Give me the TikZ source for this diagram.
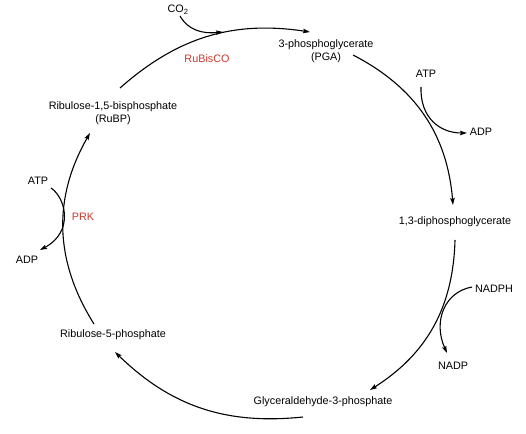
\documentclass[tikz,border=0pt]{standalone}
\usepackage{fontspec}
\setmainfont{Liberation Sans}
\usetikzlibrary{arrows.meta}
\definecolor{enz}{RGB}{205,55,45}
\begin{document}
\begin{tikzpicture}[x=1pt,y=-1pt,
  lbl/.style={inner sep=0pt,align=center,font=\fontsize{10.8}{13.5}\selectfont},
  enzyme/.style={lbl,text=enz},
  flow/.style={line width=1.1pt,-{Stealth[length=7pt,width=4.5pt,inset=1.2pt]}},
  side/.style={line width=1.1pt,-{Stealth[length=7pt,width=4.5pt,inset=1.2pt]}}]
\useasboundingbox (0,0) rectangle (526,433);
% labels
\node[lbl] (co2) at (178,10) {CO\textsubscript{2}};
\node[enzyme] (rubisco) at (207,59) {RuBisCO};
\node[lbl] (pga) at (326,51) {3-phosphoglycerate\\(PGA)};
\node[lbl] (atp1) at (426,74) {ATP};
\node[lbl] (adp1) at (481,132) {ADP};
\node[lbl] (dpg) at (455,222) {1,3-diphosphoglycerate};
\node[lbl] (nadph) at (494,289) {NADPH};
\node[lbl] (nadp) at (453,366) {NADP};
\node[lbl] (g3p) at (323,402) {Glyceraldehyde-3-phosphate};
\node[lbl] (ru5p) at (113,335) {Ribulose-5-phosphate};
\node[lbl] (rubp) at (113,113) {Ribulose-1,5-bisphosphate\\(RuBP)};
\node[lbl] (atp2) at (38,181) {ATP};
\node[enzyme] (prk) at (83,217) {PRK};
\node[lbl] (adp2) at (27,260) {ADP};
% main cycle end points
\coordinate (s1) at (120,88);  \coordinate (e1) at (310,32);
\coordinate (s2) at (353,55);  \coordinate (e2) at (453,205);
\coordinate (s3) at (455,240); \coordinate (e3) at (370,390);
\coordinate (s4) at (303,417); \coordinate (e4) at (115,352);
\coordinate (s5) at (94,324);  \coordinate (e5) at (90,133);
\draw[flow] (s1) to[bend left=25] (e1);
\draw[flow] (s2) to[bend left=29] (e2);
\draw[flow] (s3) to[bend left=28] (e3);
\draw[flow] (s4) to[bend left=25] (e4);
\draw[flow] (s5) to[bend left=31] (e5);
% side reactions
\coordinate (co2s) at (180,16);
\coordinate (co2e) at (223,32);
\draw[side] (co2s) .. controls (188,30) and (202,34) .. (co2e);
\coordinate (a1s) at (421,87);
\coordinate (a1e) at (467,133);
\draw[side] (a1s) .. controls (420,118) and (440,133) .. (a1e);
\coordinate (ns) at (472,287);
\coordinate (ne) at (447,353);
\draw[side] (ns) .. controls (444,292) and (433,322) .. (ne);
\coordinate (a2s) at (51,188);
\coordinate (a2e) at (40,250);
\draw[side] (a2s) .. controls (66,198) and (74,232) .. (a2e);
\end{tikzpicture}
\end{document}
